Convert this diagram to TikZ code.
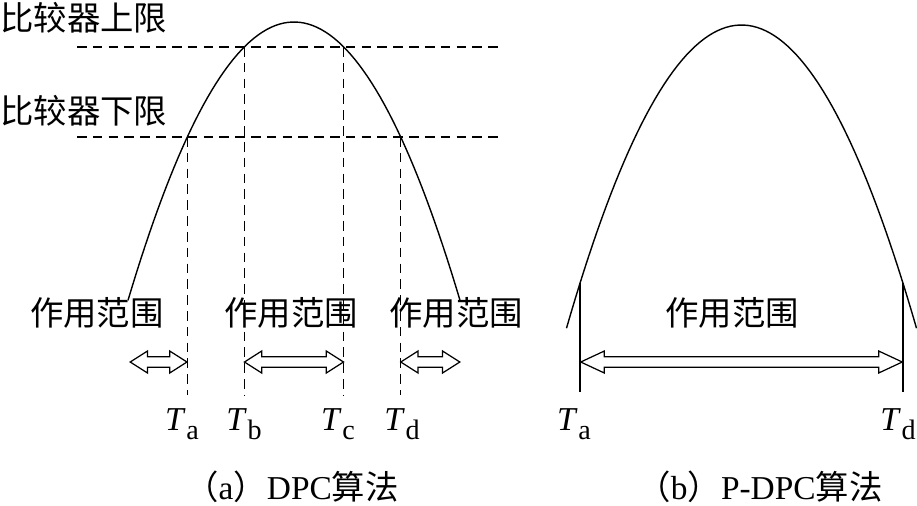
\documentclass[tikz,border=0pt]{standalone}
\usepackage{fontspec}
\setmainfont{Liberation Serif}
\newfontfamily\cjk{Noto Sans CJK SC}
\usetikzlibrary{shapes.arrows}
\newcommand{\Tsub}[1]{\textit{T}\kern0.02em\raisebox{-0.28em}{\fontsize{16}{16}\selectfont #1}}

\begin{document}
\begin{tikzpicture}[x=0.02cm,y=-0.02cm]
            \tikzstyle{every node}+=[inner sep=0pt]
            \tikzstyle{hump}=[black, line width=0.8pt]
            \tikzstyle{limitline}=[black, line width=0.8pt, dash pattern=on 5.5pt off 3.5pt]
            \tikzstyle{cn}=[font=\cjk\fontsize{19}{19}\selectfont]
            \tikzstyle{tlab}=[font=\fontsize{19}{19}\selectfont, anchor=base]
            \tikzstyle{hollow}=[draw, fill=white, line width=0.7pt, shape=double arrow, inner xsep=0pt, inner ysep=2.6pt, double arrow head extend=3.3pt, double arrow tip angle=65]
            \useasboundingbox (0,0) rectangle (917,505);
            % (a) DPC
            \draw [hump] plot [domain=-166:166, samples=80] ({294+\x},{22+1.01*(\x/10)*(\x/10)});
            \coordinate (hu1) at (77,47);
            \coordinate (hu2) at (503,47);
            \coordinate (hl1) at (77,137);
            \coordinate (hl2) at (503,137);
            \coordinate (ub) at (244.25,47);
            \coordinate (uc) at (343.75,47);
            \coordinate (la) at (187.3,137);
            \coordinate (ld) at (400.7,137);
            \coordinate (bot) at (0,395);
            \draw [limitline] (hu1) -- (hu2);
            \draw [limitline] (hl1) -- (hl2);
            \draw [limitline] (la) -- (la |- bot);
            \draw [limitline] (ub) -- (ub |- bot);
            \draw [limitline] (uc) -- (uc |- bot);
            \draw [limitline] (ld) -- (ld |- bot);
            \node [cn, anchor=west] (upper) at (0,18) {比较器上限};
            \node [cn, anchor=west] (lower) at (0,111) {比较器下限};
            \node [cn] (rng1) at (97,313) {作用范围};
            \node [cn] (rng2) at (291,313) {作用范围};
            \node [cn] (rng3) at (456,313) {作用范围};
            \node [hollow, minimum height=32.3pt] (arr1) at (158.6,362) {};
            \node [hollow, minimum height=56.4pt] (arr2) at (294,362) {};
            \node [hollow, minimum height=33.6pt] (arr3) at (430.3,362) {};
            \node [tlab] (ta) at (182,430) {\Tsub{a}};
            \node [tlab] (tb) at (244,430) {\Tsub{b}};
            \node [tlab] (tc) at (338,430) {\Tsub{c}};
            \node [tlab] (td) at (402,430) {\Tsub{d}};
            \node [font=\fontsize{19}{19}\selectfont] (capa) at (292,487) {{\cjk （}a{\cjk ）}DPC{\cjk 算法}};
            % (b) P-DPC
            \draw [hump] plot [domain=-175:175, samples=80] ({741.5+\x},{25+0.99*(\x/10)*(\x/10)});
            \coordinate (pa) at (580,283);
            \coordinate (pd) at (903,283);
            \coordinate (pbot) at (0,392);
            \draw [hump] (pa) -- (pa |- pbot);
            \draw [hump] (pd) -- (pd |- pbot);
            \node [cn] (rng4) at (732,313) {作用范围};
            \node [hollow, minimum height=183pt, double arrow tip angle=50] (arr4) at (741.5,362) {};
            \node [tlab] (pta) at (574,430) {\Tsub{a}};
            \node [tlab] (ptd) at (898,430) {\Tsub{d}};
            \node [font=\fontsize{19}{19}\selectfont] (capb) at (760,487) {{\cjk （}b{\cjk ）}P-DPC{\cjk 算法}};
          \end{tikzpicture}
\end{document}
